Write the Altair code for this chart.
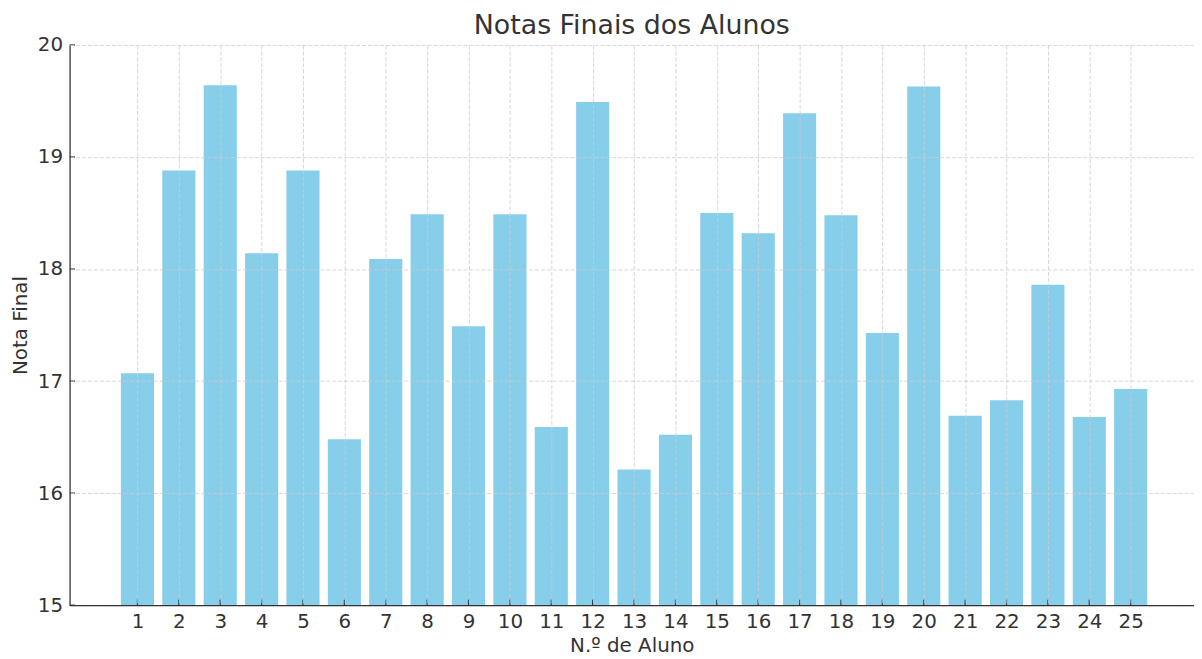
import altair as alt
import pandas as pd

alunos = list(range(1, 26))
notas = [17.07, 18.88, 19.64, 18.14, 18.88, 16.48, 18.09, 18.49, 17.49, 18.49,
         16.59, 19.49, 16.21, 16.52, 18.50, 18.32, 19.39, 18.48, 17.43, 19.63,
         16.69, 16.83, 17.86, 16.68, 16.93]
y_ticks = [15, 16, 17, 18, 19, 20]

df = pd.DataFrame({"aluno": alunos, "nota": notas})
dfy = pd.DataFrame({"v": y_ticks})

FONT = "DejaVu Sans"
TXT = "#333333"
XMIN, XMAX = -0.64, 26.53
xscale = alt.Scale(domain=[XMIN, XMAX], nice=False, zero=False)
yscale = alt.Scale(domain=[15, 20], nice=False, zero=False)

common = dict(grid=True, gridColor="#cccccc", gridDash=[4, 2], gridWidth=0.8,
              domainColor=TXT, domainWidth=1.3, ticks=False, format="d",
              labelFontSize=20, labelColor=TXT, labelFont=FONT,
              titleFont=FONT, titleFontSize=20, titleColor=TXT,
              titleFontWeight="normal", labelFlush=False, zindex=1)

bars = alt.Chart(df).transform_calculate(
    x0="datum.aluno - 0.4", x1="datum.aluno + 0.4", base="15"
).mark_rect(color="#87CEEB").encode(
    x=alt.X("x0:Q", scale=xscale,
            axis=alt.Axis(values=alunos, title="N.º de Aluno",
                          labelPadding=6, titlePadding=5, **common)),
    x2="x1:Q",
    y=alt.Y("base:Q", scale=yscale,
            axis=alt.Axis(values=y_ticks, title="Nota Final",
                          labelPadding=7, titlePadding=7, **common)),
    y2="nota:Q",
)

# inward-pointing ticks
xticks = alt.Chart(df).mark_rule(color=TXT, strokeWidth=1.2, y2Offset=-5.5).encode(
    x=alt.X("aluno:Q", scale=xscale),
    y=alt.datum(15, scale=yscale),
    y2=alt.datum(15),
)
yticks = alt.Chart(dfy).mark_rule(color=TXT, strokeWidth=1.2, x2Offset=5.5).encode(
    y=alt.Y("v:Q", scale=yscale),
    x=alt.datum(XMIN, scale=xscale),
    x2=alt.datum(XMIN),
)

chart = alt.layer(bars, xticks, yticks).properties(
    width=1132, height=564,
    title=alt.TitleParams("Notas Finais dos Alunos", font=FONT, fontSize=27,
                          color=TXT, fontWeight="normal", offset=-5),
    autosize=alt.AutoSizeParams(type="none"),
    padding={"left": 62, "top": 35, "right": 0, "bottom": 52},
).configure_view(stroke=None)

chart.save("out.html", embed_options={"renderer": "svg", "actions": False})
